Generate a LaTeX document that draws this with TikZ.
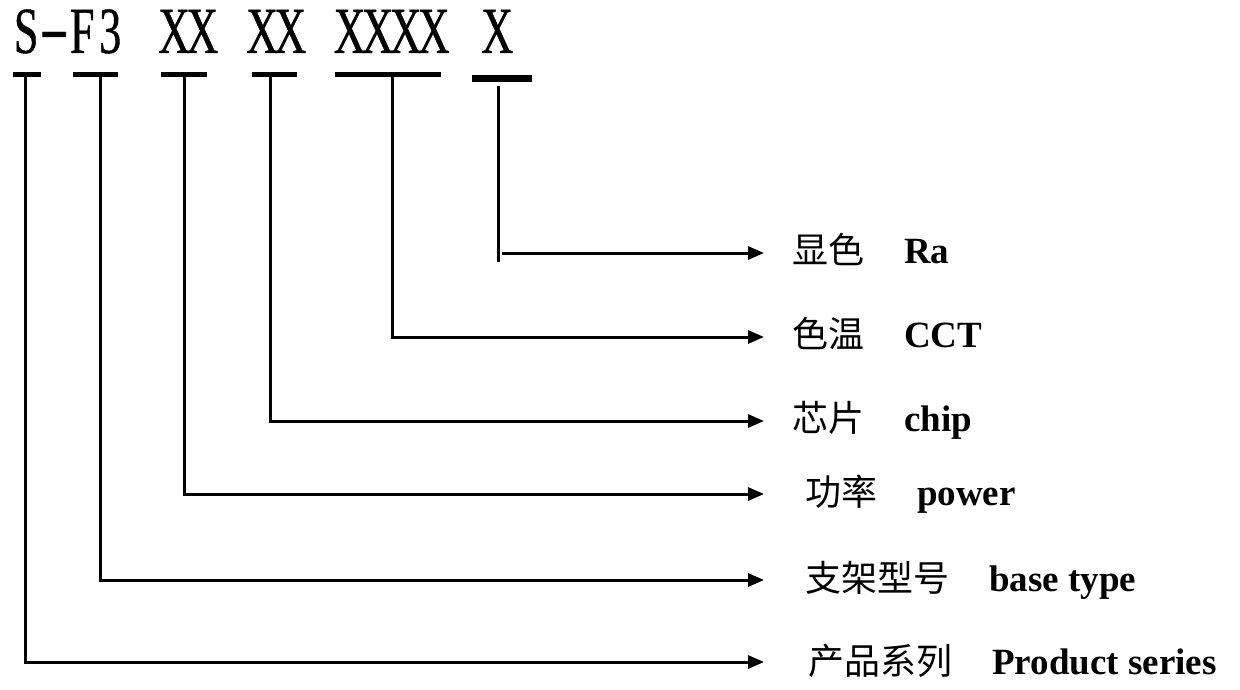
\documentclass[tikz,border=0pt]{standalone}
\usepackage{fontspec}
\setmainfont{Liberation Serif}
\newfontfamily\cjk{Noto Sans CJK SC}
\newfontfamily\codefont[FakeStretch=0.67,FakeBold=0.6]{Liberation Serif}
\usetikzlibrary{arrows.meta}
\newcommand\cc[1]{\makebox[28pt]{#1}}
\newcommand\lab[2]{{\cjk\fontsize{36}{40}\selectfont #1}\hspace{40pt}{\fontsize{37}{40}\selectfont\bfseries #2}}
\begin{document}
\begin{tikzpicture}[x=1pt,y=-1pt,
  code/.style={inner sep=0pt, anchor=base west, font=\codefont\fontsize{66}{66}\selectfont},
  bar/.style={line width=5pt},
  wire/.style={line width=3pt},
  conn/.style={line width=3pt, -{Triangle[length=16pt,width=13pt]}},
  lbl/.style={inner sep=0pt, anchor=base west}]
\useasboundingbox (0,0) rectangle (1240,690);
% code groups
\node[code] (g1) at (12,53) {\cc{S}\cc{\raisebox{3pt}{\scalebox{2}[1]{-}}}\cc{F}\cc{3}};
\node[code] (g2) at (160,53) {\cc{X}\cc{X}};
\node[code] (g3) at (248,53) {\cc{X}\cc{X}};
\node[code] (g4) at (335.5,53) {\cc{X}\cc{X}\cc{X}\cc{X}};
\node[code] (g5) at (483,53) {\cc{X}};
% underline bars
\draw[bar] (13,75) -- (41,75);
\draw[bar] (73,75) -- (118,75);
\draw[bar] (161,75) -- (207,75);
\draw[bar] (252,75) -- (297,75);
\draw[bar] (335,75) -- (441,75);
\draw[line width=7pt] (472,78.5) -- (532,78.5);
% connector start points
\coordinate (v1) at (25,77);
\coordinate (v2) at (100,77);
\coordinate (v3) at (184,77);
\coordinate (v4) at (270,77);
\coordinate (v5) at (392,77);
\coordinate (v6top) at (498,86);
\coordinate (v6bot) at (498,262);
\coordinate (h6) at (502,253);
% arrow tips
\coordinate (t1) at (764,253);
\coordinate (t2) at (764,337);
\coordinate (t3) at (764,421);
\coordinate (t4) at (764,494);
\coordinate (t5) at (764,580);
\coordinate (t6) at (764,662);
% labels
\node[lbl] (l1) at (792,263) {\lab{显色}{Ra}};
\node[lbl] (l2) at (792,347) {\lab{色温}{CCT}};
\node[lbl] (l3) at (792,431) {\lab{芯片}{chip}};
\node[lbl] (l4) at (805,505) {\lab{功率}{power}};
\node[lbl] (l5) at (805,591) {\lab{支架型号}{base type}};
\node[lbl] (l6) at (808,674) {\lab{产品系列}{Product series}};
% connectors
\draw[wire] (v6top) -- (v6bot);
\draw[conn] (h6) -- (t1);
\draw[conn] (v5) |- (t2);
\draw[conn] (v4) |- (t3);
\draw[conn] (v3) |- (t4);
\draw[conn] (v2) |- (t5);
\draw[conn] (v1) |- (t6);
\end{tikzpicture}
\end{document}
